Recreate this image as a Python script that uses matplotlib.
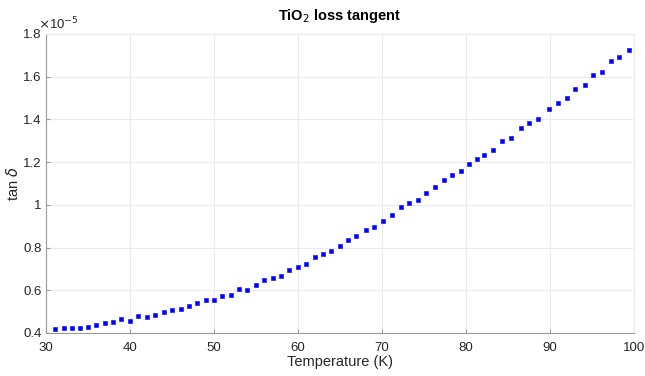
import matplotlib
matplotlib.use("Agg")
import matplotlib.pyplot as plt
from matplotlib.ticker import FormatStrFormatter

# temperature (K) and loss tangent (units of 1e-5)
temperature = [
    31.07, 32.14, 33.06, 34.05, 34.96, 35.95, 37.02, 37.94, 38.96, 39.96,
    40.95, 42.02, 43.01, 44.01, 45.00, 46.04, 47.02, 48.01, 49.01, 50.00,
    50.99, 51.99, 52.98, 53.96, 55.00, 55.99, 56.99, 57.98, 58.96, 59.96,
    60.95, 61.99, 62.98, 63.93, 64.96, 65.95, 66.94, 68.06, 69.05, 70.12,
    71.23, 72.26, 73.25, 74.25, 75.24, 76.27, 77.35, 78.33, 79.37, 80.36,
    81.27, 82.14, 83.25, 84.25, 85.39, 86.51, 87.46, 88.61, 89.85, 90.92,
    92.02, 93.01, 94.17, 95.08, 96.19, 97.26, 98.25, 99.37,
]
tan_delta = [
    0.419, 0.423, 0.422, 0.423, 0.430, 0.439, 0.445, 0.453, 0.464, 0.458,
    0.478, 0.476, 0.484, 0.498, 0.507, 0.514, 0.528, 0.539, 0.553, 0.553,
    0.575, 0.579, 0.606, 0.601, 0.623, 0.648, 0.657, 0.668, 0.694, 0.707,
    0.724, 0.754, 0.770, 0.785, 0.806, 0.834, 0.853, 0.884, 0.898, 0.926,
    0.954, 0.988, 1.009, 1.024, 1.054, 1.085, 1.115, 1.141, 1.158, 1.191,
    1.215, 1.232, 1.258, 1.299, 1.314, 1.358, 1.383, 1.403, 1.449, 1.478,
    1.500, 1.544, 1.561, 1.608, 1.623, 1.672, 1.692, 1.723,
]
x_ticks = [30, 40, 50, 60, 70, 80, 90, 100]
y_ticks = [0.4, 0.6, 0.8, 1.0, 1.2, 1.4, 1.6, 1.8]

plt.rcParams['font.family'] = ['Liberation Sans', 'DejaVu Sans']
txt = '#262626'
axc = '#9a9a9a'

fig = plt.figure(figsize=(6.45, 3.76), dpi=100)
ax = fig.add_axes([0.0713, 0.1144, 0.9117, 0.7952])

ax.plot(temperature, tan_delta, linestyle='none', marker='s',
        markersize=2.8, color='#0000ff', markeredgewidth=0.4)

ax.set_xlim(30, 100)
ax.set_ylim(0.4, 1.8)
ax.set_xticks(x_ticks)
ax.set_yticks(y_ticks)
ax.yaxis.set_major_formatter(FormatStrFormatter('%g'))

ax.grid(True, color='#ebebeb', linewidth=0.8)
ax.set_axisbelow(True)
for side in ['top', 'right']:
    ax.spines[side].set_color('#ebebeb')
    ax.spines[side].set_linewidth(0.8)
for side in ['left', 'bottom']:
    ax.spines[side].set_color(axc)
    ax.spines[side].set_linewidth(0.8)
ax.tick_params(direction='in', length=3, width=0.8, color=axc,
               labelcolor=txt, labelsize=9.5)
ax.tick_params(axis='x', pad=6.5)
ax.tick_params(axis='y', pad=3)

ax.set_xlabel('Temperature (K)', fontsize=10.5, color=txt, labelpad=1)
ax.set_ylabel(r'tan $\delta$', fontsize=10.5, color=txt)
ax.yaxis.set_label_coords(-0.042, 0.5)
ax.set_title(r'TiO$_2$ loss tangent', fontsize=10.5, fontweight='bold',
             color='black', pad=10)
ax.text(-0.014, 1.005, r'$\times$10$^{-5}$', transform=ax.transAxes,
        fontsize=9.5, color=txt, ha='left', va='bottom')

fig.savefig('out.png', dpi=100)
